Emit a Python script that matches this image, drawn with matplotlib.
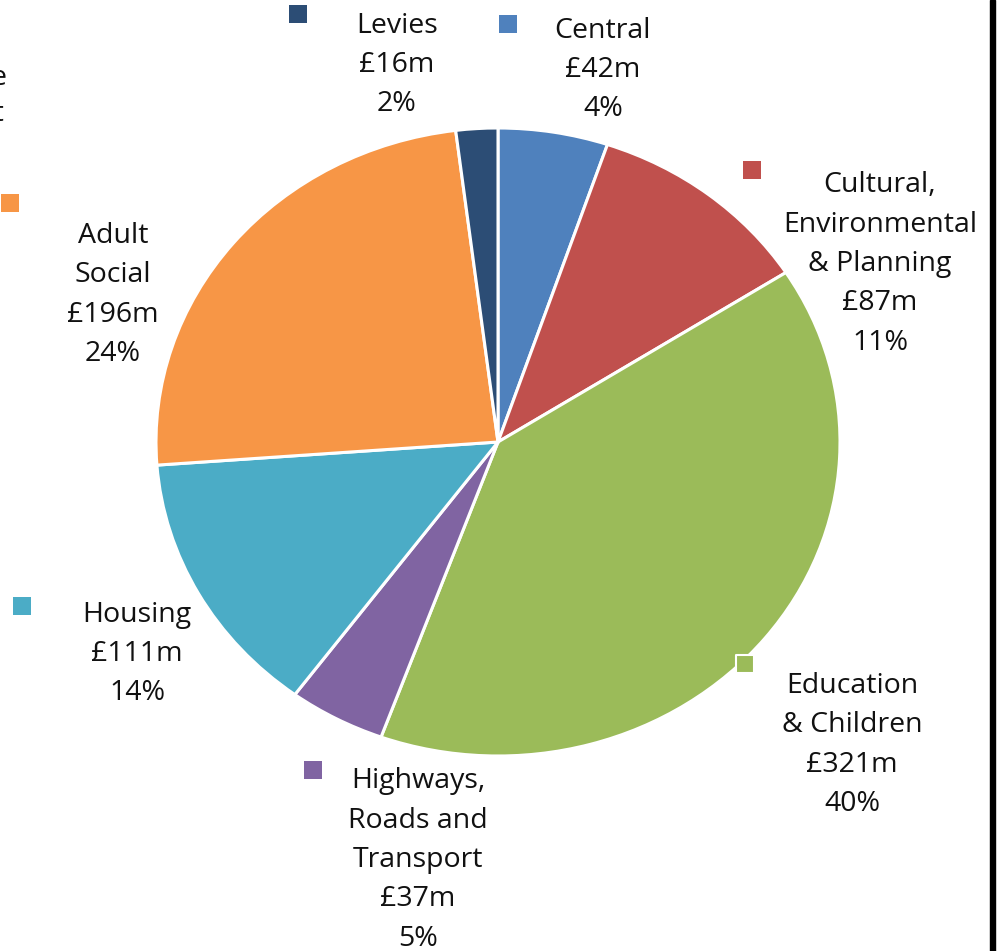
import matplotlib.pyplot as plt

# Spending by service area, clockwise from 12 o'clock
services = ["Central", "Cultural,\nEnvironmental\n& Planning", "Education\n& Children",
            "Highways,\nRoads and\nTransport", "Housing", "Adult\nSocial", "Levies"]
amounts = [42, 87, 321, 37, 111, 196, 16]  # £m
shares = [4, 11, 40, 5, 14, 24, 2]  # % as published
colors = ["#4F81BD", "#C0504D", "#9BBB59", "#8064A2", "#4BACC6", "#F79646", "#2C4D75"]

# label block centres and marker squares, in pixel space (y down)
label_xy = [(603, 70), (880, 264), (852, 745), (418, 860), (137, 654), (113, 295), (397, 65)]
marker_xy = [(508, 24), (752, 170), (745, 664), (313, 770), (22, 606), (10, 203), (298, 14)]

W, H = 1006, 951
fig = plt.figure(figsize=(W / 100, H / 100), dpi=100)
fig.patch.set_facecolor("white")

# pie is drawn slightly wider than tall
cx, cy, rx, ry = 498, 442, 342, 314
ax = fig.add_axes([(cx - rx) / W, (H - cy - ry) / H, 2 * rx / W, 2 * ry / H])
ax.pie(amounts, colors=colors, startangle=90, counterclock=False,
       wedgeprops=dict(edgecolor="white", linewidth=2.2))
ax.set_aspect("auto")
ax.set_xlim(-1, 1)
ax.set_ylim(-1, 1)
ax.axis("off")

# overlay for labels, markers and frame edge
ov = fig.add_axes([0, 0, 1, 1], facecolor="none")
ov.set_xlim(0, W)
ov.set_ylim(H, 0)
ov.axis("off")

font = dict(family=["Open Sans", "DejaVu Sans"], fontsize=20.5, color="#111111")
for name, amt, pct, (x, y) in zip(services, amounts, shares, label_xy):
    ov.text(x, y, f"{name}\n£{amt}m\n{pct}%", ha="center", va="center",
            multialignment="center", linespacing=1.54, **font)

for (x, y), c in zip(marker_xy, colors):
    edge = "white" if c == "#9BBB59" else c
    ov.scatter(x, y, s=150, marker="s", color=c, edgecolors=edge,
               linewidths=1.5 if edge == "white" else 0, zorder=5, clip_on=False)

# clipped label at the left edge
ov.text(7, 78, "Corporate", ha="right", va="center", **font)
ov.text(4, 114, "Support", ha="right", va="center", **font)

# border line on the right
ov.axvspan(990, 995, color="black")

fig.savefig("out.png", dpi=100)
